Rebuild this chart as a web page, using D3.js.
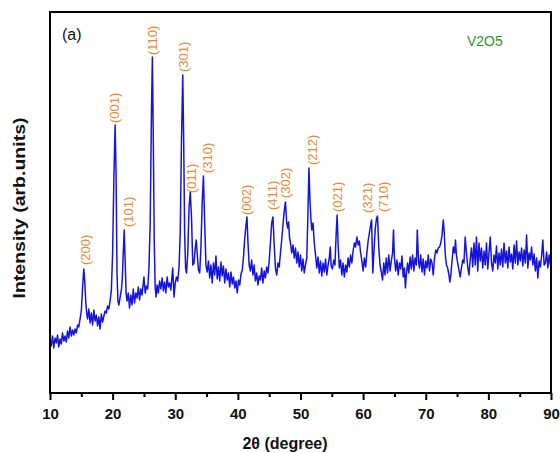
<!DOCTYPE html>
<html>
<head>
<meta charset="utf-8">
<script src="https://cdn.jsdelivr.net/npm/d3@7"></script>
<style>
  body { margin: 0; background: #fff; }
  svg { display: block; font-family: Arial, "Liberation Sans", sans-serif; }
</style>
</head>
<body>
<div id="xrd_chart"></div>
<script>
// XRD pattern: [2theta (deg), intensity (arb. units)]
const pattern = [
  [10.0, 53], [10.2, 47], [10.4, 57], [10.6, 45], [10.8, 55], [11.0, 50], [11.2, 58], [11.4, 46], [11.6, 54], [11.8, 49],
  [12.0, 60], [12.2, 52], [12.4, 57], [12.6, 51], [12.8, 62], [13.0, 55], [13.2, 66], [13.4, 57], [13.6, 63], [13.8, 58],
  [14.0, 64], [14.2, 60], [14.4, 68], [14.6, 66], [14.8, 74], [15.0, 82], [15.2, 105], [15.4, 124], [15.55, 112], [15.7, 92],
  [15.85, 80], [16.0, 74], [16.2, 84], [16.4, 70], [16.6, 80], [16.8, 68], [17.0, 83], [17.2, 72], [17.4, 78], [17.6, 67],
  [17.8, 76], [18.0, 64], [18.2, 79], [18.4, 71], [18.6, 77], [18.8, 82], [19.0, 80], [19.2, 87], [19.4, 84], [19.6, 92],
  [19.8, 103], [20.0, 140], [20.2, 215], [20.4, 268], [20.55, 220], [20.7, 120], [20.85, 92], [21.0, 88], [21.2, 96], [21.4, 103],
  [21.55, 115], [21.7, 140], [21.85, 163], [22.0, 132], [22.15, 100], [22.3, 92], [22.5, 100], [22.7, 85], [22.9, 98], [23.1, 88],
  [23.3, 104], [23.5, 90], [23.7, 100], [23.9, 95], [24.1, 106], [24.3, 93], [24.5, 104], [24.7, 98], [24.9, 110], [25.0, 116],
  [25.2, 100], [25.4, 107], [25.6, 104], [25.8, 125], [26.0, 170], [26.2, 280], [26.35, 336], [26.5, 250], [26.65, 150], [26.8, 105],
  [26.95, 96], [27.1, 108], [27.3, 100], [27.5, 112], [27.7, 104], [27.9, 115], [28.1, 102], [28.3, 111], [28.5, 100], [28.7, 116],
  [28.9, 106], [29.1, 110], [29.3, 103], [29.5, 118], [29.6, 125], [29.8, 96], [30.0, 110], [30.2, 116], [30.4, 112], [30.6, 126],
  [30.8, 160], [31.0, 255], [31.2, 318], [31.35, 250], [31.5, 160], [31.65, 125], [31.8, 120], [32.0, 140], [32.2, 185], [32.4, 201],
  [32.6, 175], [32.8, 128], [33.0, 130], [33.2, 145], [33.35, 153], [33.5, 140], [33.7, 123], [33.9, 120], [34.1, 145], [34.3, 190],
  [34.5, 217], [34.7, 170], [34.9, 128], [35.1, 121], [35.3, 132], [35.5, 115], [35.7, 128], [35.9, 110], [36.1, 130], [36.3, 118],
  [36.5, 137], [36.7, 114], [36.9, 126], [37.1, 112], [37.3, 131], [37.5, 117], [37.7, 127], [37.9, 110], [38.1, 124], [38.3, 113],
  [38.5, 120], [38.7, 106], [38.9, 121], [39.1, 109], [39.3, 116], [39.5, 105], [39.7, 112], [39.9, 100], [40.1, 113], [40.3, 108],
  [40.5, 119], [40.7, 123], [40.9, 136], [41.1, 155], [41.3, 168], [41.45, 176], [41.6, 152], [41.8, 128], [42.0, 122], [42.2, 133],
  [42.4, 118], [42.6, 128], [42.8, 112], [43.0, 120], [43.2, 108], [43.4, 117], [43.6, 113], [43.8, 125], [44.0, 110], [44.2, 122],
  [44.4, 115], [44.6, 126], [44.8, 120], [45.0, 132], [45.2, 150], [45.4, 170], [45.6, 176], [45.8, 148], [46.0, 125], [46.2, 118],
  [46.4, 130], [46.6, 126], [46.8, 140], [47.0, 153], [47.2, 168], [47.4, 182], [47.6, 191], [47.8, 170], [47.95, 165], [48.1, 171],
  [48.25, 155], [48.4, 150], [48.6, 140], [48.8, 148], [49.0, 135], [49.2, 145], [49.4, 130], [49.6, 141], [49.8, 126], [50.0, 138],
  [50.2, 122], [50.4, 134], [50.6, 120], [50.8, 128], [51.0, 135], [51.15, 170], [51.35, 225], [51.5, 195], [51.65, 175], [51.8, 163],
  [52.0, 170], [52.2, 150], [52.4, 138], [52.6, 125], [52.8, 136], [53.0, 120], [53.2, 132], [53.4, 117], [53.6, 130], [53.8, 121],
  [54.0, 134], [54.2, 118], [54.4, 128], [54.6, 135], [54.75, 146], [54.9, 127], [55.1, 124], [55.3, 133], [55.5, 128], [55.7, 160],
  [55.85, 178], [56.0, 150], [56.2, 125], [56.4, 133], [56.6, 118], [56.8, 130], [57.0, 116], [57.2, 128], [57.4, 121], [57.6, 135],
  [57.8, 126], [58.0, 138], [58.2, 130], [58.4, 142], [58.6, 150], [58.8, 146], [59.0, 156], [59.2, 148], [59.4, 152], [59.6, 140],
  [59.8, 132], [60.0, 122], [60.2, 135], [60.4, 126], [60.6, 140], [60.8, 152], [61.0, 160], [61.2, 168], [61.35, 173], [61.55, 120],
  [61.75, 145], [61.95, 165], [62.15, 175], [62.3, 177], [62.5, 145], [62.7, 128], [62.9, 121], [63.1, 113], [63.3, 130], [63.5, 118],
  [63.7, 135], [63.9, 120], [64.1, 138], [64.3, 122], [64.5, 132], [64.7, 140], [64.85, 163], [65.0, 135], [65.2, 122], [65.4, 133],
  [65.6, 118], [65.8, 130], [66.0, 124], [66.2, 137], [66.4, 116], [66.6, 125], [66.75, 105], [66.9, 118], [67.1, 130], [67.3, 120],
  [67.5, 136], [67.7, 124], [67.9, 138], [68.1, 122], [68.3, 135], [68.5, 128], [68.65, 163], [68.85, 131], [69.0, 125], [69.2, 138],
  [69.4, 121], [69.6, 134], [69.8, 118], [70.0, 132], [70.2, 125], [70.4, 138], [70.6, 122], [70.8, 134], [71.0, 130], [71.2, 118],
  [71.4, 135], [71.6, 143], [71.8, 140], [72.0, 145], [72.2, 146], [72.4, 150], [72.6, 158], [72.8, 173], [72.95, 160], [73.1, 140],
  [73.3, 128], [73.5, 125], [73.7, 118], [73.85, 111], [74.0, 118], [74.2, 132], [74.4, 146], [74.6, 140], [74.75, 153], [74.9, 138],
  [75.1, 130], [75.3, 123], [75.5, 116], [75.7, 125], [75.9, 133], [76.1, 130], [76.3, 156], [76.5, 140], [76.7, 126], [76.9, 118],
  [77.1, 134], [77.3, 145], [77.5, 126], [77.7, 150], [77.9, 128], [78.1, 156], [78.3, 122], [78.5, 150], [78.7, 132], [78.9, 145],
  [79.1, 125], [79.3, 142], [79.5, 128], [79.7, 150], [79.9, 124], [80.1, 140], [80.3, 156], [80.5, 130], [80.7, 122], [80.9, 138],
  [81.1, 130], [81.3, 147], [81.5, 124], [81.7, 140], [81.9, 128], [82.1, 144], [82.3, 126], [82.5, 150], [82.7, 130], [82.9, 142],
  [83.1, 125], [83.3, 146], [83.5, 131], [83.7, 139], [83.9, 124], [84.1, 148], [84.3, 130], [84.5, 152], [84.7, 128], [84.9, 141],
  [85.1, 132], [85.3, 145], [85.5, 127], [85.7, 143], [85.9, 130], [86.1, 158], [86.3, 125], [86.5, 140], [86.7, 133], [86.9, 146],
  [87.1, 128], [87.3, 139], [87.5, 122], [87.7, 135], [87.9, 115], [88.1, 132], [88.3, 126], [88.5, 137], [88.7, 153], [88.9, 128],
  [89.1, 130], [89.3, 141], [89.5, 125], [89.7, 138], [89.9, 128], [90.0, 150]
]

// Miller indices and where their labels sit (2theta, intensity at label foot)
const reflections = ['(200)', '(001)', '(101)', '(110)', '(301)', '(011)', '(310)', '(002)', '(411)', '(302)', '(212)', '(021)', '(321)', '(710)']
const reflectionAngles = [15.9, 20.4, 22.7, 26.5, 31.45, 32.8, 35.3, 41.5, 45.65, 47.8, 52.0, 56.05, 60.8, 63.35]
const reflectionLevels = [128, 270, 166, 338, 321, 200, 220, 178, 183, 195, 228, 181, 180, 181]

const majorTicks = [10, 20, 30, 40, 50, 60, 70, 80, 90]
const minorTicks = [15, 25, 35, 45, 55, 65, 75, 85]

const panelLabel = '(a)'
const sampleName = 'V2O5'
const xTitle = '2θ (degree)'
const yTitle = 'Intensity (arb.units)'

// Vars for dimensions
const width = 560
const height = 453
const margin = { top: 12, right: 9, bottom: 60, left: 50 }
const innerWidth = width - margin.left - margin.right
const innerHeight = height - margin.top - margin.bottom

const svg = d3.select('#xrd_chart')
  .append('svg')
  .attr('width', width)
  .attr('height', height)

const g = svg.append('g')
  .attr('transform', `translate(${margin.left}, ${margin.top})`)

// Scales
const xScale = d3.scaleLinear().domain([10, 90]).range([0, innerWidth])
const yScale = d3.scaleLinear().domain([0, 381]).range([innerHeight, 0])

// Pattern line
const line = d3.line()
  .x(d => xScale(d[0]))
  .y(d => yScale(d[1]))

g.append('path')
  .datum(pattern)
  .attr('fill', 'none')
  .attr('stroke', '#1414dc')
  .attr('stroke-width', 1.5)
  .attr('stroke-linejoin', 'round')
  .attr('d', line)

// Peak labels, rotated
g.selectAll('.hkl')
  .data(reflections)
  .enter()
  .append('text')
  .attr('class', 'hkl')
  .attr('transform', (d, i) => `translate(${xScale(reflectionAngles[i])}, ${yScale(reflectionLevels[i])}) rotate(-90)`)
  .attr('dy', '0.27em')
  .attr('font-size', 13)
  .attr('fill', '#e38b38')
  .text(d => d)

// Frame
g.append('rect')
  .attr('width', innerWidth)
  .attr('height', innerHeight)
  .attr('fill', 'none')
  .attr('stroke', '#000')
  .attr('stroke-width', 2)

// Bottom axis - minor ticks
const minorAxis = g.append('g')
  .attr('transform', `translate(0, ${innerHeight})`)
  .call(d3.axisBottom(xScale).tickValues(minorTicks).tickSize(4).tickFormat(''))
minorAxis.select('.domain').remove()
minorAxis.selectAll('line').attr('stroke-width', 2)

// Bottom axis - major ticks
const majorAxis = g.append('g')
  .attr('transform', `translate(0, ${innerHeight})`)
  .call(d3.axisBottom(xScale).tickValues(majorTicks).tickSize(7).tickPadding(8).tickFormat(d3.format('d')))
majorAxis.select('.domain').remove()
majorAxis.selectAll('line').attr('stroke-width', 2)
majorAxis.selectAll('text')
  .attr('font-family', 'Arial, "Liberation Sans", sans-serif')
  .attr('font-size', 15)
  .attr('font-weight', 'bold')
  .attr('fill', '#111')

// Axis titles
svg.append('text')
  .attr('x', 285)
  .attr('y', 449)
  .attr('text-anchor', 'middle')
  .attr('font-size', 16)
  .attr('font-weight', 'bold')
  .attr('fill', '#111')
  .text(xTitle)

svg.append('text')
  .attr('transform', 'translate(25, 208) rotate(-90)')
  .attr('text-anchor', 'middle')
  .attr('font-size', 17)
  .attr('font-weight', 'bold')
  .attr('textLength', 181)
  .attr('lengthAdjust', 'spacingAndGlyphs')
  .attr('fill', '#111')
  .text(yTitle)

// Panel tag and sample name
svg.append('text')
  .attr('x', 62)
  .attr('y', 40)
  .attr('font-size', 16)
  .attr('fill', '#111')
  .text(panelLabel)

svg.append('text')
  .attr('x', 467)
  .attr('y', 46)
  .attr('font-size', 14)
  .attr('fill', '#2f9633')
  .text(sampleName)
</script>
</body>
</html>
